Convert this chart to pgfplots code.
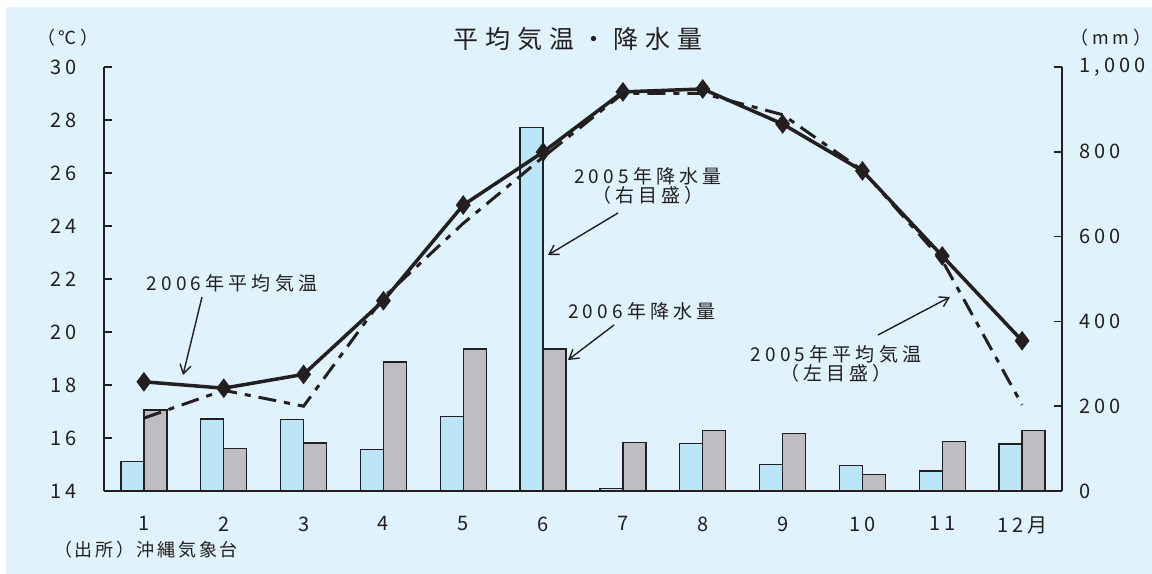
\documentclass[border=0pt]{standalone}
\usepackage{fontspec}
\setmainfont{Noto Sans CJK JP}
\usepackage{pgfplots}
\pgfplotsset{compat=1.18}
\usetikzlibrary{arrows.meta}

\definecolor{bg}{HTML}{E0F2FB}
\definecolor{rainA}{HTML}{BDE5F8}
\definecolor{rainB}{HTML}{BEBEC2}
\definecolor{ink}{HTML}{231F20}

\newcommand\ls[1]{\addfontfeature{LetterSpace=#1}}
\newcommand\fs[1]{\fontsize{#1bp}{#1bp}\selectfont}

% precipitation (mm), right scale
\pgfplotstableread{
m   r2005 r2006
1   69    191
2   170   101
3   168   113
4   98    304
5   175   335
6   858   335
7   6     114
8   112   142
9   63    135
10  60    39
11  47    116
12  111   142
}\rain

\begin{document}
\begin{tikzpicture}[x=1bp,y=1bp,
  note/.style={font=\fs{19}\ls{22}, text=ink, align=center, inner sep=0pt},
  arr/.style={ink, line width=1.4bp, -{Straight Barb[length=9bp,width=11bp]}}]
\useasboundingbox (0,0) rectangle (1152,574);
\fill[white] (0,0) rectangle (1152,574);
\fill[bg] (6,0) rectangle (1152,567);

\pgfplotsset{
  base/.style={
    at={(104bp,83bp)}, anchor=south west, scale only axis,
    width=958bp, height=424bp, xmin=0.5, xmax=12.5,
    axis line style={ink, line width=1.5bp, -},
    tick style={ink, line width=1.5bp},
    tick align=inside, major tick length=8bp,
    /pgf/number format/assume math mode=true,
    tick label style={font=\fs{20}\ls{20}, text=ink},
  }
}

\begin{axis}[base,
  ymin=0, ymax=1000,
  axis x line*=bottom, axis y line*=right,
  xtick pos=bottom, ytick pos=right,
  ytick={0,200,...,1000},
  /pgf/number format/1000 sep={,},
  yticklabel style={xshift=14bp},
  xtick={1,...,12},
  xticklabels={1,2,3,4,5,6,7,8,9,10,11,12月},
  xticklabel style={yshift=-14bp},
  major x tick style={draw=none},
  extra x ticks={1.5,2.5,...,11.5},
  extra x tick labels={},
  extra x tick style={tick style={ink, line width=1.5bp}},
  ybar=0pt, bar width=23bp,
]
\addplot[fill=rainA, draw=ink, line width=1.3bp] table[x=m, y=r2005] {\rain};
\addplot[fill=rainB, draw=ink, line width=1.3bp] table[x=m, y=r2006] {\rain};
\end{axis}

\begin{axis}[base,
  ymin=14, ymax=30,
  axis x line=none, axis y line*=left, ytick pos=left,
  ytick={14,16,...,30},
  yticklabel style={xshift=-24bp},
]
% 2005 mean temperature
\addplot[ink, line width=3bp, dash pattern=on 18bp off 8bp on 6bp off 8bp] coordinates {
(1,16.75) (2,17.8) (3,17.2) (4,21.3) (5,24.1) (6,26.6)
(7,29.0) (8,29.0) (9,28.2) (10,26.1) (11,22.7) (12,17.25)};
% 2006 mean temperature
\addplot[ink, line width=3.5bp, mark=diamond*, mark size=7bp, mark options={solid, fill=ink}] coordinates {
(1,18.12) (2,17.88) (3,18.40) (4,21.18) (5,24.79) (6,26.79)
(7,29.06) (8,29.17) (9,27.85) (10,26.08) (11,22.87) (12,19.67)};
\end{axis}

% titles and units
\node[font=\fs{25}\ls{28}, text=ink] at (578,535) {平均気温・降水量};
\node[font=\fs{18}\ls{20}, text=ink] at (68,536) {（℃）};
\node[font=\fs{18}\ls{20}, text=ink] at (1111,536) {（mm）};
\node[font=\fs{18}\ls{15}, text=ink, anchor=west, inner sep=0pt] at (54,24) {（出所）沖縄気象台};

% annotations
\node[note] at (232,291) {2006年平均気温};
\draw[arr] (202,277) -- (183,199);
\node[note] at (648,388) {2005年降水量\\（右目盛）};
\draw[arr] (618,361) -- (548,319);
\node[note] at (642,263) {2006年降水量};
\draw[arr] (614,249) -- (568,214);
\node[note] at (836,210) {2005年平均気温\\（左目盛）};
\draw[arr] (878,239) -- (950,277);
\end{tikzpicture}
\end{document}
